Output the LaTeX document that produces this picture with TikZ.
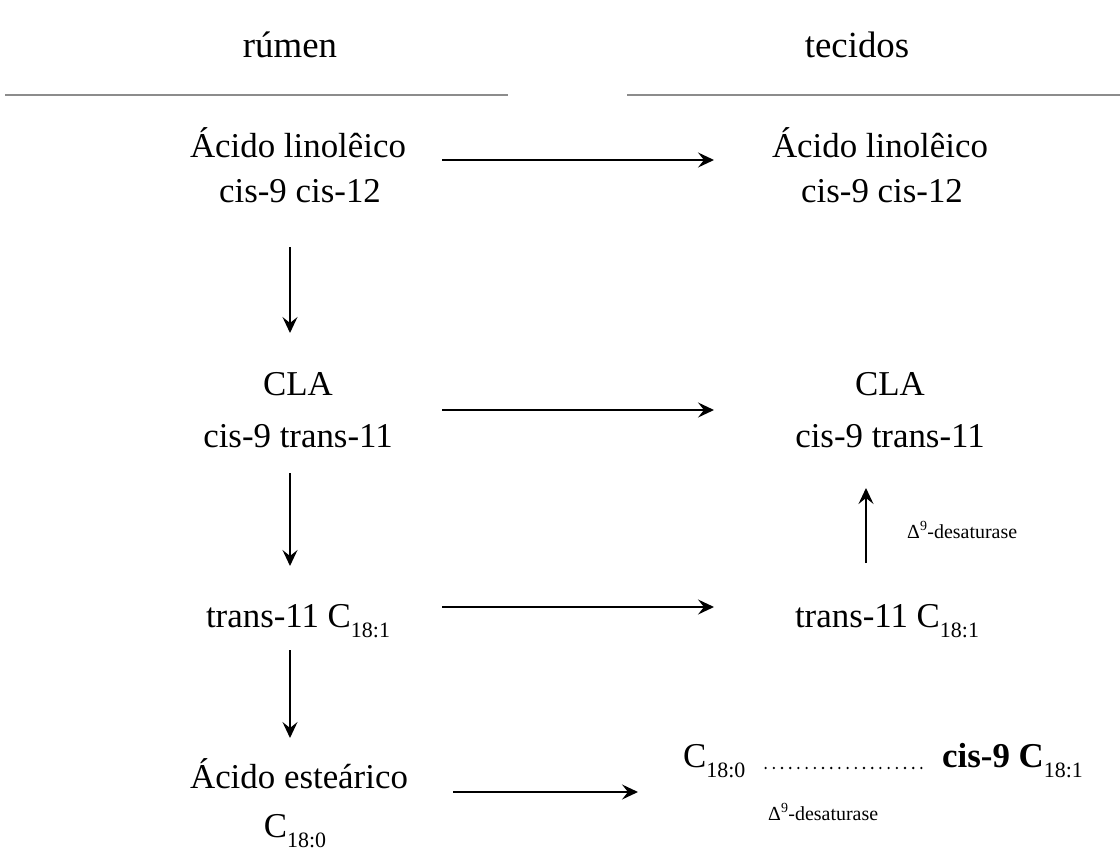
\documentclass[tikz,border=0pt]{standalone}
\usepackage{fontspec}
\setmainfont{Liberation Serif}
\usetikzlibrary{arrows.meta}
% subscript index for the fatty-acid formulae
\newcommand{\fasub}[1]{\raisebox{-0.3em}{\fontsize{22}{22}\selectfont #1}}
\begin{document}
\begin{tikzpicture}[x=1bp,y=-1bp,
  lbl/.style={anchor=base, inner sep=0pt, font=\fontsize{35}{42}\selectfont},
  head/.style={anchor=base, inner sep=0pt, font=\fontsize{37}{44}\selectfont},
  note/.style={anchor=base west, inner sep=0pt, font=\fontsize{20}{24}\selectfont},
  flow/.style={line width=2bp, -{Stealth[length=16bp,width=15bp,inset=6bp]}},
  rule/.style={line width=1.6bp, draw=black!45}]
\useasboundingbox[fill=white] (0,0) rectangle (1120,854);

% column headings
\node[head] (hrum) at (290,57) {rúmen};
\node[head] (htec) at (857,57) {tecidos};
\coordinate (rl1) at (5,95);   \coordinate (rl2) at (508,95);
\coordinate (rr1) at (627,95); \coordinate (rr2) at (1120,95);
\draw[rule] (rl1) -- (rl2);
\draw[rule] (rr1) -- (rr2);

% rumen column
\node[lbl] (la1) at (298,157) {Ácido linolêico};
\node[lbl] (la2) at (300,202) {cis-9 cis-12};
\node[lbl] (lb1) at (298,395) {CLA};
\node[lbl] (lb2) at (298,447) {cis-9 trans-11};
\node[lbl] (lc)  at (298,627) {trans-11 C\fasub{18:1}};
\node[lbl] (ld1) at (299,788) {Ácido esteárico};
\node[lbl] (ld2) at (295,837) {C\fasub{18:0}};

% tissue column
\node[lbl] (ra1) at (880,157) {Ácido linolêico};
\node[lbl] (ra2) at (882,202) {cis-9 cis-12};
\node[lbl] (rb1) at (890,395) {CLA};
\node[lbl] (rb2) at (890,447) {cis-9 trans-11};
\node[lbl] (rc)  at (887,627) {trans-11 C\fasub{18:1}};
\node[lbl, anchor=base west] (rd1) at (683,767) {C\fasub{18:0}};
\node[lbl, anchor=base east] (rd2) at (1083,767) {\textbf{cis-9 C}\fasub{18:1}};
\node[note] (des1) at (907,538) {Δ\textsuperscript{9}-desaturase};
\node[note] (des2) at (768,820) {Δ\textsuperscript{9}-desaturase};

% dotted link between stearic and oleic acid
\draw[line width=2.6bp, line cap=round, dash pattern=on 0bp off 8.2bp]
  ([xshift=20bp,yshift=-1bp]rd1.base east) -- ([xshift=-16bp,yshift=-1bp]rd2.base west);

% arrow end points
\coordinate (v1a) at (290,247); \coordinate (v1b) at (290,333);
\coordinate (v2a) at (290,473); \coordinate (v2b) at (290,566);
\coordinate (v3a) at (290,650); \coordinate (v3b) at (290,738);
\coordinate (upa) at (866,563); \coordinate (upb) at (866,488);
\coordinate (h1a) at (442,160); \coordinate (h1b) at (714,160);
\coordinate (h2a) at (442,410); \coordinate (h2b) at (714,410);
\coordinate (h3a) at (442,607); \coordinate (h3b) at (714,607);
\coordinate (h4a) at (453,792); \coordinate (h4b) at (638,792);

\draw[flow] (v1a) -- (v1b);
\draw[flow] (v2a) -- (v2b);
\draw[flow] (v3a) -- (v3b);
\draw[flow] (upa) -- (upb);
\draw[flow] (h1a) -- (h1b);
\draw[flow] (h2a) -- (h2b);
\draw[flow] (h3a) -- (h3b);
\draw[flow] (h4a) -- (h4b);
\end{tikzpicture}
\end{document}
